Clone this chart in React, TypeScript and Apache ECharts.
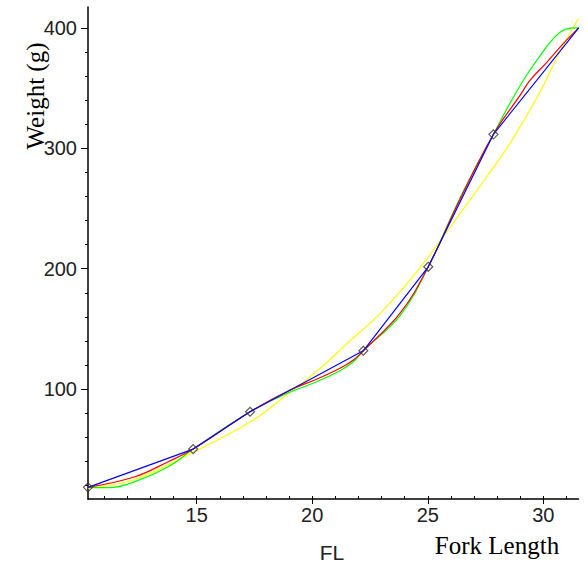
import React, { useEffect, useRef } from "react";
import * as echarts from "echarts";

// Data points (knots)
const knotFL = [10.3, 14.85, 17.31, 22.21, 25.02, 27.84, 31.53];
const knotW = [18.3, 50.1, 81.1, 131.8, 201.6, 311.7, 400.2];

// Red curve
const redFL = [10.3, 12.33, 13.77, 14.85, 17.31, 19.04, 20.19, 21.2, 21.78, 22.21, 23.8, 25.02, 26.4, 27.84, 28.99, 29.42, 30.15, 30.87, 31.53];
const redW = [18.3, 27.1, 39.6, 50.1, 81.1, 99.2, 108.1, 117.2, 124.1, 131.8, 163, 201.6, 258, 311.7, 344, 356.5, 371.5, 387.3, 400.2];

// Green curve
const greenFL = [10.3, 11.2, 12.33, 13.77, 14.85, 17.31, 18.75, 20.19, 21.2, 21.78, 22.21, 23.8, 25.02, 26.4, 27.84, 28.63, 29.28, 29.86, 30.22, 30.72, 31.16, 31.53];
const greenW = [18.3, 18.0, 23, 35.4, 50.1, 81.1, 95, 106.1, 115.2, 122.7, 131.8, 161, 201.6, 259, 311.7, 340, 361, 377, 386.5, 396.5, 400, 400.2];

// Yellow curve
const yellowFL = [10.3, 12.33, 15, 17.31, 18.89, 20.26, 21.63, 22.79, 24.23, 25.46, 26.1, 27.55, 28.56, 29.86, 30.73, 31.52];
const yellowW = [17.7, 25, 49, 72.5, 95, 115.8, 140, 160, 190.6, 221, 238, 276.4, 304.2, 347, 381, 408];

// Axis ticks
const xMajor = [15, 20, 25, 30];
const xMinor = [11, 12, 13, 14, 15, 16, 17, 18, 19, 20, 21, 22, 23, 24, 25, 26, 27, 28, 29, 30, 31];
const yMajor = [100, 200, 300, 400];
const yMinor = [20, 40, 60, 80, 100, 120, 140, 160, 180, 200, 220, 240, 260, 280, 300, 320, 340, 360, 380, 400];

const X_MIN = 10.3;
const X_MAX = 31.52;
const Y_MIN = 8.6;
const Y_MAX = 417.5;

const zip = (a: number[], b: number[]) => a.map((v, i) => [v, b[i]]);

const TICK_FONT = '"Liberation Sans Narrow", "Liberation Sans", "DejaVu Sans Condensed", sans-serif';

export default function App() {
  const ref = useRef<HTMLDivElement>(null);
  useEffect(() => {
    if (!ref.current) return;
    const chart = echarts.init(ref.current, null, { renderer: "svg" });
    const axisLine = { show: true, onZero: false, lineStyle: { color: "#000", width: 1.5 } };
    chart.setOption({
      animation: false,
      backgroundColor: "#fff",
      grid: { left: 88, top: 7, width: 490.5, height: 492, containLabel: false },
      xAxis: [
        {
          type: "value", min: X_MIN, max: X_MAX,
          axisLine,
          axisTick: { show: true, inside: true, length: 3, customValues: xMinor, lineStyle: { color: "#000" } },
          axisLabel: { show: false },
          splitLine: { show: false },
        },
        {
          type: "value", min: X_MIN, max: X_MAX, position: "bottom",
          axisLine: { show: false },
          axisTick: { show: true, inside: false, length: 5, customValues: xMajor, lineStyle: { color: "#000" } },
          axisLabel: { show: true, customValues: xMajor, margin: 6, fontFamily: TICK_FONT, fontSize: 20, color: "#222" },
          splitLine: { show: false },
        },
      ],
      yAxis: [
        {
          type: "value", min: Y_MIN, max: Y_MAX,
          axisLine,
          axisTick: { show: true, inside: false, length: 3, customValues: yMinor, lineStyle: { color: "#000" } },
          axisLabel: { show: false },
          splitLine: { show: false },
        },
        {
          type: "value", min: Y_MIN, max: Y_MAX, position: "left",
          axisLine: { show: false },
          axisTick: { show: true, inside: false, length: 7, customValues: yMajor, lineStyle: { color: "#000" } },
          axisLabel: { show: true, customValues: yMajor, margin: 11, fontFamily: TICK_FONT, fontSize: 20, color: "#222" },
          splitLine: { show: false },
        },
      ],
      graphic: [
        {
          type: "text", x: 35, y: 96, rotation: Math.PI / 2,
          style: { text: "Weight (g)", font: '25px "Liberation Serif", "Times New Roman", serif', fill: "#000", align: "center", verticalAlign: "middle" },
        },
        {
          type: "text", x: 497, y: 545,
          style: { text: "Fork Length", font: '25px "Liberation Serif", "Times New Roman", serif', fill: "#000", align: "center", verticalAlign: "middle" },
        },
        {
          type: "text", x: 332, y: 552,
          style: { text: "FL", font: '21px ' + TICK_FONT, fill: "#222", align: "center", verticalAlign: "middle" },
        },
      ],
      series: [
        {
          type: "line", data: zip(yellowFL, yellowW), smooth: 0.4, showSymbol: false,
          lineStyle: { color: "#ffff00", width: 1.2 }, z: 2,
        },
        {
          type: "line", data: zip(greenFL, greenW), smooth: 0.4, showSymbol: false,
          lineStyle: { color: "#00ff00", width: 1.2 }, z: 3,
        },
        {
          type: "line", data: zip(redFL, redW), smooth: 0.4, showSymbol: false,
          lineStyle: { color: "#ff0000", width: 1.2 }, z: 4,
        },
        {
          type: "line", data: zip(knotFL, knotW), smooth: false, showSymbol: false,
          lineStyle: { color: "#0000ff", width: 1.2 }, z: 5,
        },
        {
          type: "scatter", data: zip(knotFL, knotW), symbol: "diamond", symbolSize: 9,
          itemStyle: { color: "rgba(0,0,0,0)", borderColor: "#333", borderWidth: 1.2 }, z: 6,
        },
      ],
    });
    return () => chart.dispose();
  }, []);
  return <div ref={ref} style={{ position: "absolute", left: 0, top: 0, width: 588, height: 564 }} />;
}
